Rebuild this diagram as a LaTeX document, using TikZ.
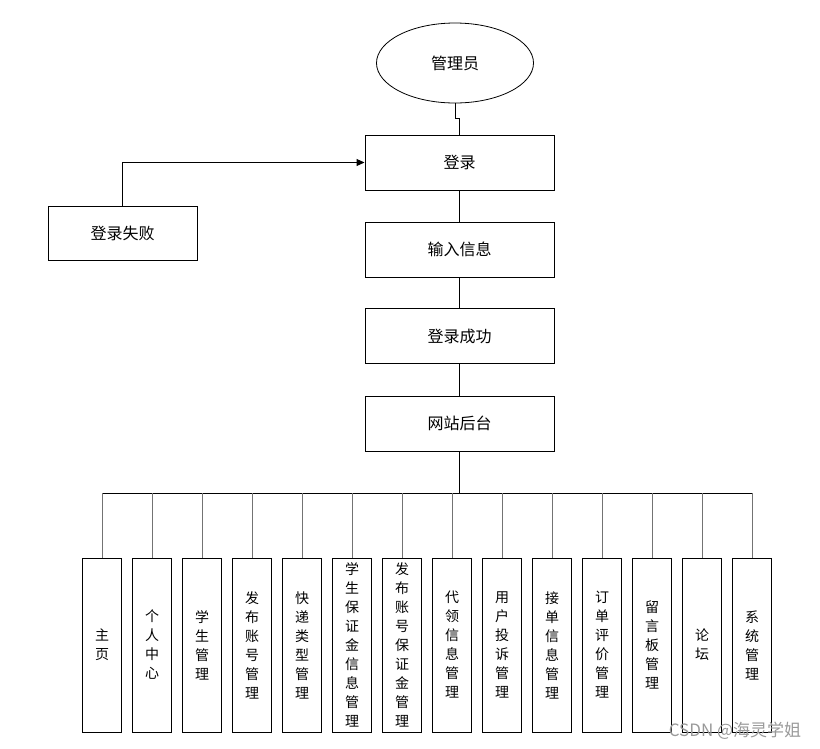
\documentclass[tikz,border=0pt]{standalone}
\usepackage{fontspec}
\setmainfont{Noto Sans CJK SC}
\usetikzlibrary{shapes.geometric,arrows.meta}

\tikzset{
    stepbox/.style={draw, line width=1pt, minimum width=189pt, minimum height=55pt,
        inner sep=0pt, font=\fontsize{16}{19}\selectfont},
    modbox/.style={draw, line width=1pt, minimum width=39pt, minimum height=174pt,
        inner sep=0pt, align=center, font=\fontsize{14}{19}\selectfont},
    link/.style={line width=1pt},
    drop/.style={line width=1pt, draw=black!55},
}

\begin{document}
\begin{tikzpicture}[x=1pt, y=-1pt]
    \useasboundingbox (0, 0) rectangle (820, 748);

    % 主流程
    \node[draw, ellipse, line width=0.8pt, minimum width=157pt, minimum height=80pt,
        font=\fontsize{16}{19}\selectfont] (admin) at (455, 63) {管理员};
    \node[stepbox] (login) at (459.5, 162.5) {登录};
    \node[stepbox] (input) at (459.5, 249.5) {输入信息};
    \node[stepbox] (ok) at (459.5, 336) {登录成功};
    \node[stepbox] (site) at (459.5, 423.5) {网站后台};
    \node[stepbox, minimum width=149pt, minimum height=54pt] (fail) at (122.5, 233) {登录失败};

    \draw[link] (admin.south) -- ++(0, 15) -| (login.north);
    \draw[link] (login) -- (input);
    \draw[link] (input) -- (ok);
    \draw[link] (ok) -- (site);
    \draw[link, -{Triangle[length=8pt, width=7pt]}] (fail.north) |- (login.west);

    % 功能模块
    \foreach \n/\txt in {1/{主\\页}, 2/{个\\人\\中\\心}, 3/{学\\生\\管\\理},
        4/{发\\布\\账\\号\\管\\理}, 5/{快\\递\\类\\型\\管\\理},
        6/{学\\生\\保\\证\\金\\信\\息\\管\\理}, 7/{发\\布\\账\\号\\保\\证\\金\\管\\理},
        8/{代\\领\\信\\息\\管\\理}, 9/{用\\户\\投\\诉\\管\\理},
        10/{接\\单\\信\\息\\管\\理}, 11/{订\\单\\评\\价\\管\\理},
        12/{留\\言\\板\\管\\理}, 13/{论\\坛}, 14/{系\\统\\管\\理}}
        \node[modbox] (m\n) at ({102 + 50*(\n-1)}, 645) {\txt};

    \coordinate (bus) at (459.5, 493);
    \draw[link] (site.south) -- (bus);
    \draw[link] (m1.north |- bus) -- (m14.north |- bus);
    \foreach \n in {1,...,14}
        \draw[drop] (m\n.north) -- (m\n.north |- bus);

    \node[text=black!40, font=\fontsize{17}{19}\selectfont] (mark) at (735, 731) {CSDN @海灵学姐};
\end{tikzpicture}
\end{document}
